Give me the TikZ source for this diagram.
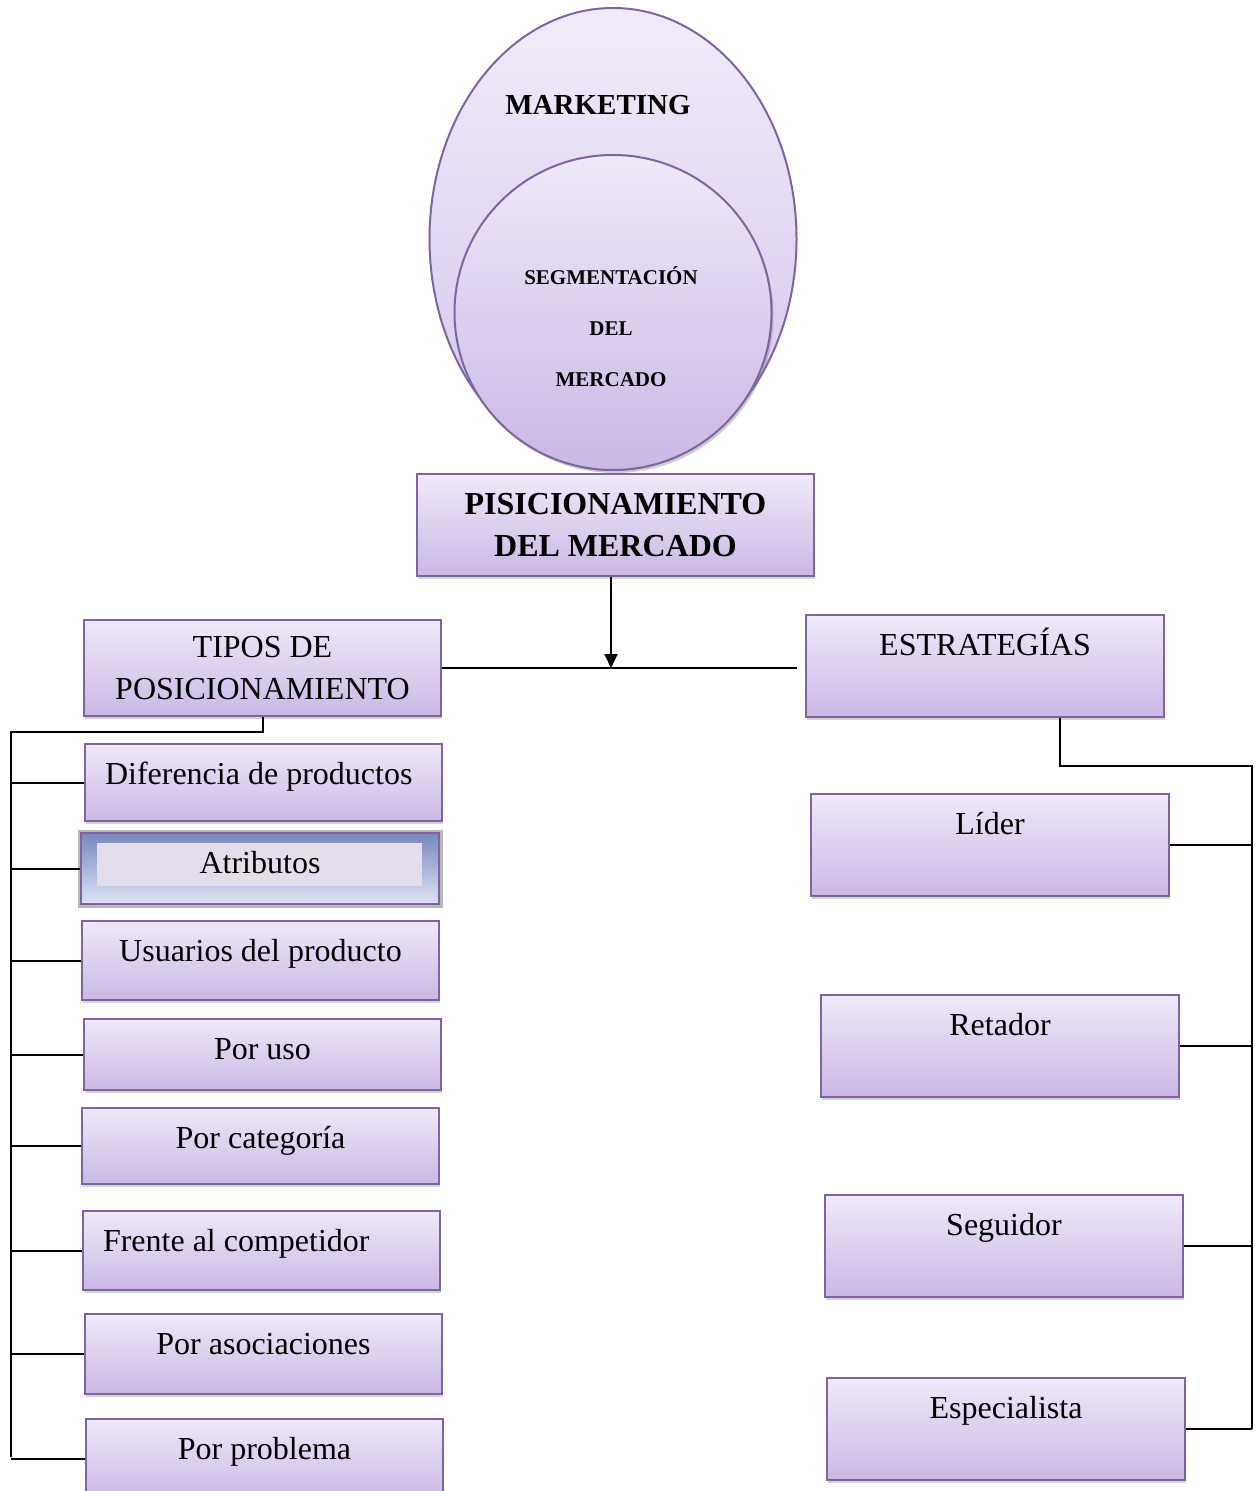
\documentclass[tikz,border=0pt]{standalone}
\usepackage{fontspec}
\setmainfont{Liberation Serif}
\usepackage{tikz}
\usetikzlibrary{arrows.meta, positioning, shapes.geometric, shadows, calc}
\definecolor{colorBoxTop}{RGB}{239,233,248}
\definecolor{colorBoxBottom}{RGB}{202,184,229}
\definecolor{colorBorder}{RGB}{128,100,162}
\definecolor{colorOvalTop}{RGB}{241,236,249}
\definecolor{colorOvalBottom}{RGB}{212,196,236}
\definecolor{colorAtrTop}{RGB}{118,136,190}
\definecolor{colorAtrBottom}{RGB}{222,227,246}
\definecolor{colorAtrInner}{RGB}{228,222,236}
\tikzset{
  box/.style={draw=colorBorder, line width=1pt, top color=colorBoxTop, bottom color=colorBoxBottom, drop shadow={shadow xshift=0.6pt, shadow yshift=-1.6pt, opacity=0.35}, inner sep=0pt, minimum width=178.5pt, font=\fontsize{16}{21}\selectfont},
  typebox/.style={box, anchor=north west, text height=20pt, text depth=#1},
  leftbox/.style={inner xsep=10pt, text width=158.5pt, align=flush left},
  oval/.style={ellipse, draw=colorBorder, line width=1pt, top color=colorOvalTop, bottom color=colorOvalBottom, inner sep=0pt},
  atrbox/.style={top color=colorAtrTop, bottom color=colorAtrBottom, preaction={draw=gray!55, line width=3.5pt}, path picture={\fill[colorAtrInner] ([shift={(8pt,-5pt)}]path picture bounding box.north west) rectangle ([shift={(-8.5pt,9pt)}]path picture bounding box.south east);}},
  link/.style={line width=1pt, black},
}

\begin{document}
\begin{tikzpicture}[x=0.5pt, y=-0.5pt, >={Triangle[length=7pt,width=6.5pt]}]
\useasboundingbox (0,0) rectangle (1259,1491);
\node[oval, minimum width=183.5pt, minimum height=231pt] (mkt) at (613,239) {};
\node[font=\bfseries\fontsize{14.5}{17}\selectfont] (mkttxt) at (598,105) {MARKETING};
\node[oval, top color=colorBoxTop, bottom color=colorBoxBottom, minimum width=158.5pt, minimum height=157.5pt, drop shadow={shadow xshift=1pt, shadow yshift=-1.5pt, opacity=0.4}] (seg) at (613,312.5) {};
\node[align=center, font=\bfseries\fontsize{10.5}{25.5}\selectfont] (segtxt) at (611,326.5) {SEGMENTACIÓN\\DEL\\MERCADO};
\node[box, minimum width=198.5pt, minimum height=51pt, align=center, font=\bfseries\fontsize{16}{21}\selectfont] (pos) at (615.5,525) {PISICIONAMIENTO\\DEL MERCADO};
\node[box, minimum height=48pt, align=center] (tipos) at (262.5,668) {TIPOS DE\\POSICIONAMIENTO};
\node[typebox=31pt, minimum width=179pt] (estr) at (805,614) {ESTRATEGÍAS};
\coordinate (hub) at (611,668);
\coordinate (estin) at (797,668);

\node[typebox=18.5pt, leftbox] (t1) at (84,743) {Diferencia de productos};
\node[typebox=15.5pt, atrbox, minimum width=179pt] (t2) at (80,832) {Atributos};
\node[typebox=19.5pt] (t3) at (81,920) {Usuarios del producto};
\node[typebox=15.5pt] (t4) at (83,1018) {Por uso};
\node[typebox=18pt] (t5) at (81,1107) {Por categoría};
\node[typebox=19.5pt, leftbox] (t6) at (82,1210) {Frente al competidor};
\node[typebox=20pt] (t7) at (84,1313) {Por asociaciones};
\node[typebox=20pt] (t8) at (85,1418) {Por problema};

\node[typebox=31pt, minimum width=179pt] (e1) at (810,793) {Líder};
\node[typebox=31pt, minimum width=179pt] (e2) at (820,994) {Retador};
\node[typebox=31pt, minimum width=179pt] (e3) at (824,1194) {Seguidor};
\node[typebox=31pt, minimum width=179pt] (e4) at (826,1377) {Especialista};

\draw[->, link] (pos.south -| hub) -- (hub);
\draw[link] (tipos.east) -- (estin);
\coordinate (lbot) at (11,1457);
\draw[link] (tipos.south) -- ++(0,15) -| (lbot);
\foreach \n in {t1,t2,t3,t4,t5,t6,t7,t8} \draw[link] (lbot |- \n.west) -- (\n.west);
\coordinate (rbot) at (1252,1429);
\draw[link] ([xshift=37.5pt]estr.south) -- ++(0,48) -| (rbot);
\foreach \n in {e1,e2,e3,e4} \draw[link] (\n.east) -- (rbot |- \n.east);
\end{tikzpicture}
\end{document}
